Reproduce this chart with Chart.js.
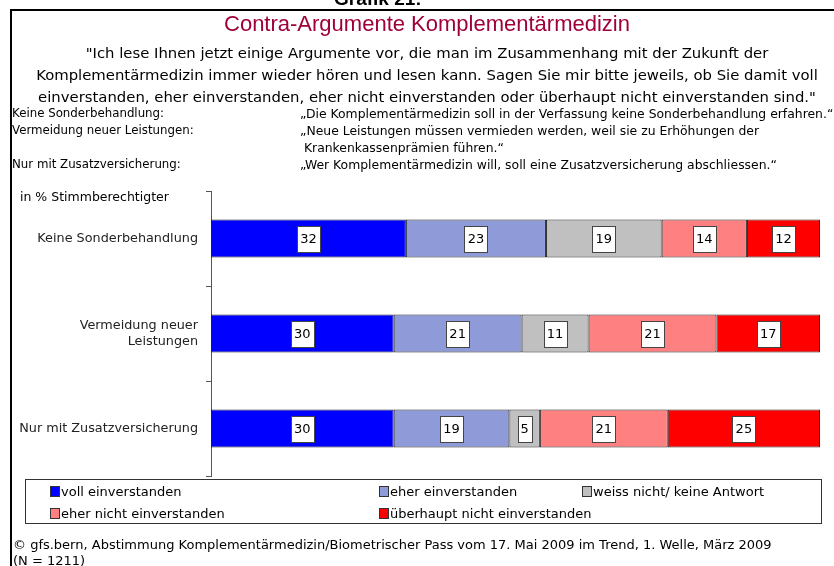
<!DOCTYPE html>
<html>
<head>
<meta charset="utf-8">
<script src="https://cdn.jsdelivr.net/npm/chart.js@4.4.1/dist/chart.umd.min.js"></script>
<style>
    html, body { margin: 0; padding: 0; background: #fff; }
    #page { position: relative; width: 834px; height: 566px; overflow: hidden; }
    #chart { position: absolute; left: 0; top: 0; }
    .t { position: absolute; white-space: nowrap; font-family: "DejaVu Sans", sans-serif; color: #000; }
    #frame { position: absolute; left: 10px; top: 9px; width: 830px; height: 600px; border-top: 2px solid #000; border-left: 2px solid #000; }
</style>
</head>
<body>
<div id="page">
    <canvas id="chart" width="834" height="566"></canvas>
    <div id="frame"></div>
    <div class="t" style="left:334px;top:-12px;font-size:19px;font-weight:bold;font-family:'Liberation Sans',sans-serif;">Grafik 21:</div>
    <div class="t" style="left:0;width:854px;text-align:center;top:11px;font-size:22px;color:#a0003a;font-family:'Liberation Sans',sans-serif;">Contra-Argumente Komplementärmedizin</div>
    <div class="t" style="left:0;width:854px;text-align:center;top:42px;font-size:14.85px;line-height:22px;">"Ich lese Ihnen jetzt einige Argumente vor, die man im Zusammenhang mit der Zukunft der<br>Komplementärmedizin immer wieder hören und lesen kann. Sagen Sie mir bitte jeweils, ob Sie damit voll<br>einverstanden, eher einverstanden, eher nicht einverstanden oder überhaupt nicht einverstanden sind."</div>
    <div class="t" style="left:12px;top:105px;font-size:11.8px;line-height:17px;">Keine Sonderbehandlung:<br>Vermeidung neuer Leistungen:<br><br>Nur mit Zusatzversicherung:</div>
    <div class="t" style="left:300px;top:105px;font-size:12.4px;line-height:17px;">„Die Komplementärmedizin soll in der Verfassung keine Sonderbehandlung erfahren.“<br>„Neue Leistungen müssen vermieden werden, weil sie zu Erhöhungen der<br>&nbsp;Krankenkassenprämien führen.“<br>„Wer Komplementärmedizin will, soll eine Zusatzversicherung abschliessen.“</div>
    <div class="t" style="left:20px;top:189px;font-size:12.5px;">in % Stimmberechtigter</div>
    <div class="t" style="left:13px;top:537px;font-size:13px;line-height:16px;">© gfs.bern, Abstimmung Komplementärmedizin/Biometrischer Pass vom 17. Mai 2009 im Trend, 1. Welle, März 2009<br>(N = 1211)</div>
</div>
<script>
const categories = ['Keine Sonderbehandlung', ['Vermeidung neuer', 'Leistungen'], 'Nur mit Zusatzversicherung'];
const seriesNames = ['voll einverstanden', 'eher einverstanden', 'weiss nicht/ keine Antwort', 'eher nicht einverstanden', 'überhaupt nicht einverstanden'];
const vollEinverstanden = [32, 30, 30];
const eherEinverstanden = [23, 21, 19];
const weissNicht = [19, 11, 5];
const eherNicht = [14, 21, 21];
const ueberhauptNicht = [12, 17, 25];
const colors = ['#0000ff', '#8e9bd8', '#c0c0c0', '#ff8080', '#ff0000'];

const allSeries = [vollEinverstanden, eherEinverstanden, weissNicht, eherNicht, ueberhauptNicht];

// white value boxes in the middle of each segment
const valueBoxes = {
    id: 'valueBoxes',
    afterDatasetsDraw(chart) {
        const ctx = chart.ctx;
        ctx.save();
        ctx.font = '13px "DejaVu Sans", sans-serif';
        ctx.textAlign = 'center';
        ctx.textBaseline = 'middle';
        chart.data.datasets.forEach((ds, i) => {
            chart.getDatasetMeta(i).data.forEach((bar, j) => {
                const cx = (bar.x + bar.base) / 2;
                const cy = bar.y;
                const txt = String(ds.data[j]);
                const w = Math.round(ctx.measureText(txt).width) + 6;
                const h = 26;
                const x = Math.round(cx - w / 2) + 0.5;
                const y = Math.round(cy - h / 2) + 0.5;
                ctx.fillStyle = '#fff';
                ctx.fillRect(x, y, w, h);
                ctx.strokeStyle = '#444';
                ctx.lineWidth = 1;
                ctx.strokeRect(x, y, w, h);
                ctx.fillStyle = '#000';
                ctx.fillText(txt, cx, cy + 1);
            });
        });
        ctx.restore();
    }
};

// legend in a box, three columns
const boxLegend = {
    id: 'boxLegend',
    afterDraw(chart) {
        const ctx = chart.ctx;
        ctx.save();
        ctx.strokeStyle = '#333';
        ctx.lineWidth = 1;
        ctx.strokeRect(25.5, 479.5, 796, 44);
        const colX = [50, 379, 582];
        const rowY = [492, 514];
        ctx.font = '13px "DejaVu Sans", sans-serif';
        ctx.textBaseline = 'middle';
        ctx.textAlign = 'left';
        chart.data.datasets.forEach((ds, i) => {
            const x = colX[i % 3];
            const y = rowY[Math.floor(i / 3)];
            ctx.fillStyle = ds.backgroundColor;
            ctx.fillRect(x + 0.5, y - 5.5, 9, 10);
            ctx.strokeStyle = '#333';
            ctx.strokeRect(x + 0.5, y - 5.5, 9, 10);
            ctx.fillStyle = '#000';
            ctx.fillText(ds.label, x + 11, y + 1);
        });
        ctx.restore();
    }
};

new Chart(document.getElementById('chart').getContext('2d'), {
    type: 'bar',
    data: {
        labels: categories,
        datasets: allSeries.map((vals, i) => ({
            label: seriesNames[i],
            data: vals,
            backgroundColor: colors[i],
            borderColor: '#222',
            borderWidth: 1,
            borderSkipped: false,
            barPercentage: 0.4,
            categoryPercentage: 1
        }))
    },
    options: {
        indexAxis: 'y',
        responsive: false,
        animation: false,
        layout: { padding: { left: 0, top: 191, right: 14, bottom: 90 } },
        plugins: {
            legend: { display: false },
            tooltip: { enabled: false }
        },
        scales: {
            x: { stacked: true, min: 0, max: 100, display: false },
            y: {
                stacked: true,
                afterFit: (scale) => { scale.width = 211; },
                grid: { drawOnChartArea: false, tickLength: 5, color: '#555' },
                border: { color: '#555' },
                ticks: {
                    color: '#222',
                    padding: 8,
                    font: { family: 'DejaVu Sans', size: 12.8 }
                }
            }
        }
    },
    plugins: [valueBoxes, boxLegend]
});
</script>
</body>
</html>
